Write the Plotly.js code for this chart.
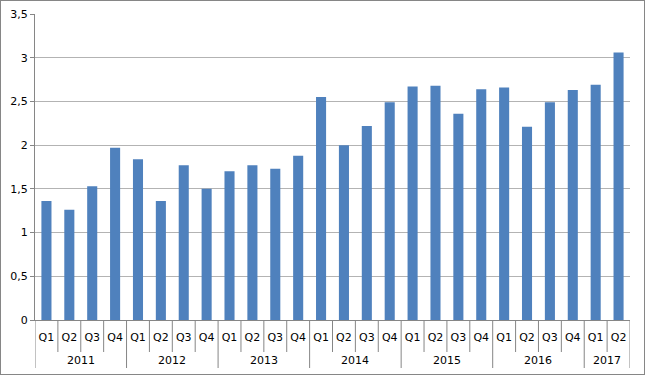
<!DOCTYPE html>
<html><head><meta charset="utf-8">
<script src="https://cdn.plot.ly/plotly-3.0.1.min.js"></script>
<style>html,body{margin:0;padding:0;background:#fff}#c{width:643px;height:373px;border:1px solid #868686}</style>
</head><body><div id="c"></div>
<script>
const years = ["2011","2011","2011","2011","2012","2012","2012","2012","2013","2013","2013","2013","2014","2014","2014","2014","2015","2015","2015","2015","2016","2016","2016","2016","2017","2017"];
const quarters = ["Q1","Q2","Q3","Q4","Q1","Q2","Q3","Q4","Q1","Q2","Q3","Q4","Q1","Q2","Q3","Q4","Q1","Q2","Q3","Q4","Q1","Q2","Q3","Q4","Q1","Q2"];
const values = [1.36,1.26,1.53,1.97,1.84,1.36,1.77,1.50,1.70,1.77,1.73,1.88,2.55,2.00,2.22,2.49,2.67,2.68,2.36,2.64,2.66,2.21,2.49,2.63,2.69,3.06];
const yTicks = [0,0.5,1,1.5,2,2.5,3,3.5];

const H = 373, T = 13, B = 54, PH = H - T - B;
const px = p => -p / PH;
const idx = quarters.map((_, i) => i);
const LINE = '#868686';
const FS = 11;

// boundaries between categories (short) and between years (long)
const shapes = [];
for (let i = 0; i <= years.length; i++) {
  const isYear = i === 0 || i === years.length || years[i] !== years[i - 1];
  shapes.push({
    type: 'line', xref: 'x', yref: 'paper',
    x0: i - 0.5, x1: i - 0.5, y0: 0, y1: px(isYear ? 48 : 32),
    line: {color: LINE, width: 1}
  });
}
// year labels centred under their group
const uniqYears = [...new Set(years)];
const annotations = uniqYears.map(y => {
  const ii = idx.filter(i => years[i] === y);
  return {
    x: (ii[0] + ii[ii.length - 1]) / 2, xref: 'x',
    y: px(40), yref: 'paper', yanchor: 'middle', xanchor: 'center',
    text: y, showarrow: false, font: {size: FS, color: '#000'}
  };
});

Plotly.newPlot('c', [{
  type: 'bar',
  x: idx,
  y: values,
  marker: {color: '#4f81bd'},
  hoverinfo: 'none'
}], {
  width: 643, height: H,
  margin: {l: 34, r: 14, t: T, b: B},
  paper_bgcolor: '#fff', plot_bgcolor: '#fff',
  bargap: 0.56,
  font: {family: 'DejaVu Sans, sans-serif', size: FS, color: '#000'},
  showlegend: false,
  shapes: shapes,
  annotations: annotations,
  xaxis: {
    range: [-0.5, quarters.length - 0.5],
    tickmode: 'array', tickvals: idx, ticktext: quarters,
    showline: true, linecolor: LINE, linewidth: 1,
    ticks: '', tickangle: 0, ticklabelstandoff: 7,
    showgrid: false, zeroline: false,
    tickfont: {size: FS}
  },
  yaxis: {
    range: [0, 3.5], tickvals: yTicks,
    ticktext: yTicks.map(v => String(v).replace('.', ',')),
    showline: true, linecolor: LINE, linewidth: 1,
    ticks: 'outside', ticklen: 4, tickcolor: LINE,
    showgrid: true, gridcolor: '#b3b3b3', gridwidth: 1,
    zeroline: false, tickfont: {size: FS}
  }
}, {staticPlot: true});
</script></body></html>
